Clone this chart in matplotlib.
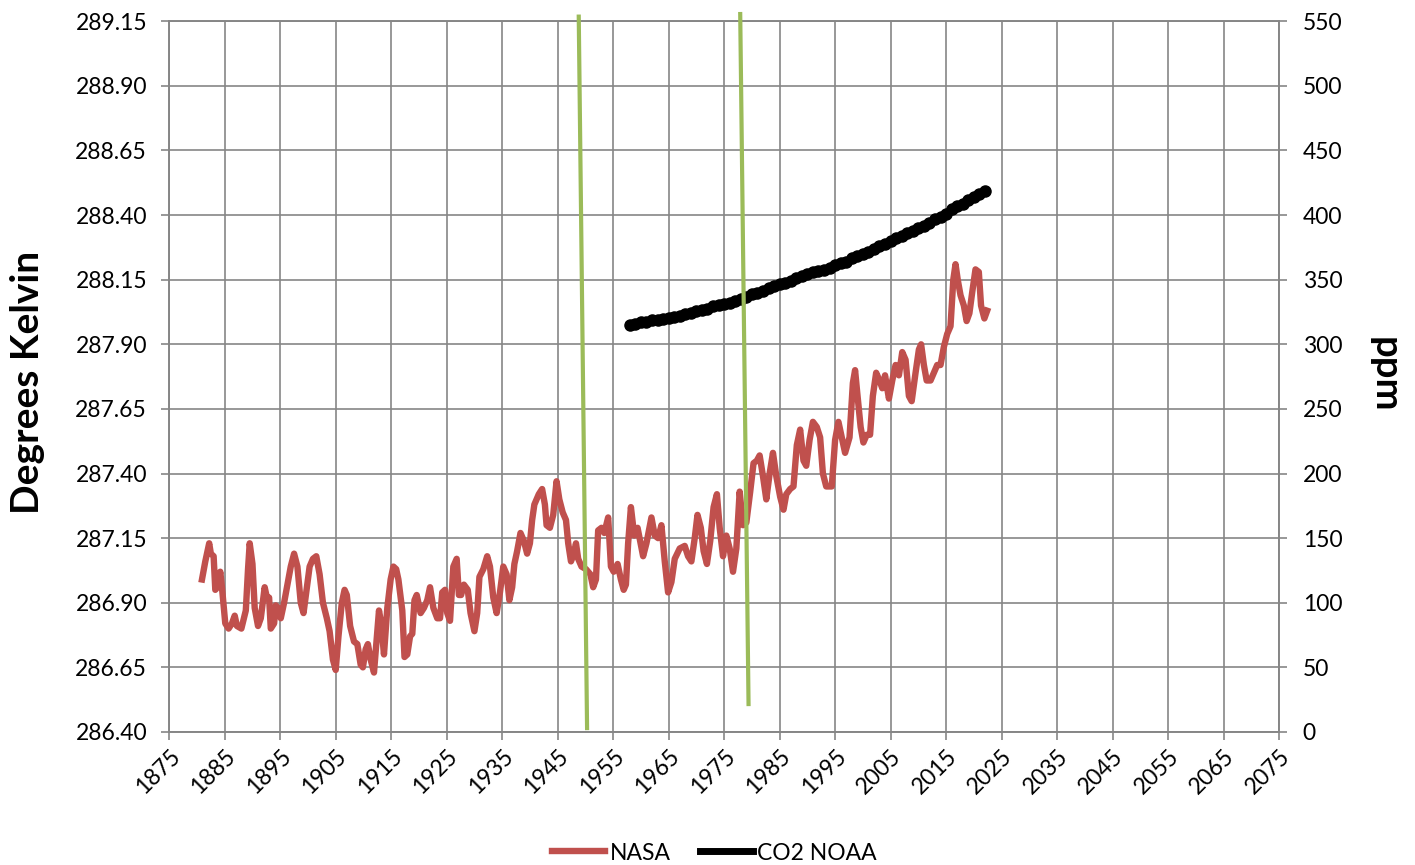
import matplotlib
matplotlib.use("Agg")
import matplotlib.pyplot as plt
from matplotlib.lines import Line2D

plt.rcParams['font.family'] = ['Lato', 'DejaVu Sans']

# NASA temperature (12-month smoothed), degrees Kelvin
nasa_years = [1880.9, 1881.5, 1882.2, 1882.5, 1883.0, 1883.3, 1883.7, 1884.2, 1884.5, 1885.1,
              1885.7, 1886.3, 1886.8, 1887.2, 1888.0, 1888.8, 1889.2, 1889.5, 1890.0, 1890.4,
              1891.0, 1891.5, 1892.2, 1892.6, 1893.0, 1893.3, 1893.9, 1894.2, 1894.6, 1895.1,
              1895.7, 1896.3, 1896.9, 1897.5, 1898.1, 1898.7, 1899.2, 1899.8, 1900.3, 1900.9,
              1901.5, 1902.1, 1902.7, 1903.4, 1903.9, 1904.5, 1905.0, 1905.5, 1906.1, 1906.6,
              1907.0, 1907.6, 1908.3, 1908.9, 1909.5, 1909.9, 1910.4, 1910.8, 1911.3, 1911.9,
              1912.5, 1912.8, 1913.2, 1913.7, 1914.3, 1914.9, 1915.4, 1915.9, 1916.3, 1917.0,
              1917.4, 1917.9, 1918.4, 1918.8, 1919.2, 1919.6, 1920.3, 1920.9, 1921.5, 1922.0,
              1922.6, 1923.3, 1923.8, 1924.2, 1924.7, 1925.1, 1925.6, 1926.2, 1926.8, 1927.2,
              1927.6, 1928.1, 1928.8, 1929.3, 1930.0, 1930.5, 1930.9, 1931.6, 1932.3, 1932.8,
              1933.4, 1934.0, 1934.6, 1935.2, 1935.8, 1936.3, 1936.8, 1937.2, 1937.7, 1938.3,
              1938.9, 1939.5, 1940.0, 1940.4, 1940.8, 1941.6, 1942.2, 1942.7, 1943.0, 1943.6,
              1944.2, 1944.8, 1945.3, 1945.9, 1946.5, 1946.9, 1947.4, 1947.9, 1948.3, 1948.7,
              1949.3, 1950.1, 1950.9, 1951.4, 1951.9, 1952.3, 1952.9, 1953.4, 1954.1, 1954.6,
              1955.1, 1955.8, 1956.4, 1956.9, 1957.3, 1957.7, 1958.2, 1958.8, 1959.4, 1960.4,
              1961.0, 1961.9, 1962.5, 1963.1, 1963.7, 1964.3, 1964.9, 1965.5, 1966.1, 1967.0,
              1967.9, 1968.5, 1969.1, 1969.7, 1970.2, 1970.8, 1971.3, 1971.9, 1972.5, 1973.1,
              1973.7, 1974.2, 1974.8, 1975.4, 1976.0, 1976.6, 1977.2, 1977.8, 1978.4, 1979.0,
              1979.7, 1980.3, 1980.9, 1981.4, 1982.0, 1982.6, 1983.2, 1983.8, 1984.4, 1985.1,
              1985.7, 1986.2, 1986.9, 1987.5, 1988.1, 1988.7, 1989.3, 1989.8, 1990.4, 1991.0,
              1991.7, 1992.3, 1992.8, 1993.4, 1994.4, 1995.0, 1995.6, 1996.2, 1996.8, 1997.6,
              1998.2, 1998.6, 1999.0, 1999.6, 2000.1, 2000.7, 2001.3, 2001.8, 2002.4, 2003.0,
              2003.5, 2004.0, 2004.7, 2005.3, 2005.9, 2006.5, 2007.1, 2007.7, 2008.3, 2008.8,
              2009.5, 2010.1, 2010.5, 2011.0, 2011.5, 2012.2, 2012.8, 2013.4, 2014.0, 2014.6,
              2015.2, 2015.8, 2016.3, 2016.7, 2017.1, 2017.6, 2018.2, 2018.7, 2019.2, 2019.7,
              2020.3, 2020.9, 2021.3, 2021.9, 2022.4]
nasa_kelvin = [286.99, 287.06, 287.13, 287.09, 287.08, 286.95, 286.96, 287.02, 286.96, 286.82,
               286.80, 286.82, 286.85, 286.81, 286.80, 286.87, 287.03, 287.13, 287.05, 286.88,
               286.81, 286.84, 286.96, 286.92, 286.92, 286.80, 286.82, 286.89, 286.88, 286.84,
               286.90, 286.97, 287.04, 287.09, 287.04, 286.90, 286.86, 286.96, 287.04, 287.07,
               287.08, 287.01, 286.90, 286.84, 286.79, 286.68, 286.64, 286.77, 286.90, 286.95,
               286.93, 286.81, 286.75, 286.74, 286.66, 286.65, 286.72, 286.74, 286.68, 286.63,
               286.79, 286.87, 286.82, 286.70, 286.88, 286.99, 287.04, 287.03, 286.99, 286.87,
               286.69, 286.70, 286.77, 286.78, 286.91, 286.93, 286.86, 286.88, 286.91, 286.96,
               286.88, 286.84, 286.84, 286.94, 286.95, 286.86, 286.83, 287.04, 287.07, 286.93,
               286.93, 286.97, 286.95, 286.86, 286.79, 286.86, 287.00, 287.03, 287.08, 287.04,
               286.92, 286.86, 286.94, 287.04, 287.01, 286.91, 286.96, 287.05, 287.10, 287.17,
               287.14, 287.09, 287.13, 287.22, 287.28, 287.32, 287.34, 287.28, 287.20, 287.19,
               287.24, 287.37, 287.30, 287.25, 287.22, 287.13, 287.06, 287.09, 287.13, 287.07,
               287.04, 287.03, 287.01, 286.96, 286.99, 287.18, 287.19, 287.17, 287.23, 287.04,
               287.02, 287.05, 286.99, 286.95, 286.97, 287.13, 287.27, 287.16, 287.19, 287.08,
               287.13, 287.23, 287.16, 287.15, 287.20, 287.06, 286.94, 286.98, 287.07, 287.11,
               287.12, 287.08, 287.06, 287.15, 287.24, 287.19, 287.10, 287.05, 287.14, 287.27,
               287.32, 287.19, 287.08, 287.16, 287.11, 287.02, 287.11, 287.33, 287.20, 287.21,
               287.33, 287.44, 287.45, 287.47, 287.39, 287.30, 287.40, 287.48, 287.39, 287.31,
               287.26, 287.32, 287.34, 287.35, 287.51, 287.57, 287.45, 287.43, 287.53, 287.60,
               287.58, 287.54, 287.40, 287.35, 287.35, 287.53, 287.60, 287.54, 287.48, 287.54,
               287.75, 287.80, 287.71, 287.58, 287.52, 287.55, 287.55, 287.70, 287.79, 287.76,
               287.73, 287.78, 287.69, 287.76, 287.82, 287.78, 287.87, 287.84, 287.70, 287.68,
               287.79, 287.88, 287.90, 287.82, 287.76, 287.76, 287.79, 287.82, 287.82, 287.89,
               287.94, 287.97, 288.15, 288.21, 288.15, 288.09, 288.05, 287.99, 288.02, 288.10,
               288.19, 288.18, 288.05, 288.00, 288.03]

# CO2 NOAA, ppm
co2_years = list(range(1958, 2023))
co2_ppm = [315.3, 316.0, 316.9, 317.6, 318.5, 319.0, 319.6, 320.0, 321.4, 322.2,
           323.1, 324.6, 325.7, 326.3, 327.5, 329.7, 330.2, 331.1, 332.0, 333.8,
           335.4, 336.8, 338.8, 340.1, 341.5, 343.2, 344.9, 346.4, 347.6, 349.3,
           351.7, 353.2, 354.5, 355.7, 356.5, 357.2, 359.0, 361.0, 362.7, 363.9,
           366.8, 368.5, 369.7, 371.3, 373.5, 376.0, 377.7, 380.0, 382.1, 384.0,
           385.8, 387.6, 390.1, 391.9, 394.1, 396.7, 398.8, 401.0, 404.4, 406.8,
           408.7, 411.7, 414.2, 416.4, 418.5]

# two green marker lines (ppm axis)
green1_x = [1948.8, 1950.3]
green1_y = [553.6, 3.0]
green2_x = [1977.9, 1979.4]
green2_y = [555.6, 21.6]

x_ticks = list(range(1875, 2076, 10))
left_ticks = [286.40, 286.65, 286.90, 287.15, 287.40, 287.65, 287.90, 288.15, 288.40, 288.65, 288.90, 289.15]
right_ticks = list(range(0, 551, 50))

RED = '#C0504D'
GREEN = '#9BBB59'
GRID = '#868686'

fig = plt.figure(figsize=(14.15, 8.65), dpi=100)
ax = fig.add_axes([0.1196, 0.1538, 0.9039 - 0.1196, 0.9754 - 0.1538])
ax2 = ax.twinx()

ax.plot(nasa_years, nasa_kelvin, color=RED, lw=4.6, solid_joinstyle='round', zorder=3)
ax2.plot(co2_years, co2_ppm, color='black', lw=5, marker='o', ms=8, zorder=3)
ax2.plot(green1_x, green1_y, color=GREEN, lw=3, clip_on=False, zorder=4)
ax2.plot(green2_x, green2_y, color=GREEN, lw=3, clip_on=False, zorder=4)

ax.set_xlim(1875, 2075)
ax.set_ylim(286.40, 289.15)
ax2.set_ylim(0, 550)
ax.set_xticks(x_ticks)
ax.set_yticks(left_ticks)
ax.set_yticklabels([f"{v:.2f}" for v in left_ticks])
ax2.set_yticks(right_ticks)

ax.grid(True, color=GRID, lw=1.2)
ax.set_axisbelow(True)
for a in (ax, ax2):
    for s in a.spines.values():
        s.set_color(GRID)
        s.set_linewidth(1.2)
    a.tick_params(direction='out', length=6, width=1.2, color=GRID, labelsize=16.5,
                  labelcolor='black')
ax.tick_params(axis='y', pad=10)
ax2.tick_params(axis='y', pad=11)
ax.tick_params(axis='x', pad=4)

for lbl in ax.get_xticklabels():
    lbl.set_rotation(45)
    lbl.set_ha('right')
    lbl.set_rotation_mode('anchor')

ax.set_ylabel('Degrees Kelvin', fontsize=28, fontweight='bold', va='center')
ax.yaxis.set_label_coords(-0.1273, 0.492)
ax2.set_ylabel('ppm', fontsize=27.5, fontweight='bold', rotation=270, va='center')
ax2.yaxis.set_label_coords(1.0955, 0.503)

handles = [Line2D([], [], color=RED, lw=4.6), Line2D([], [], color='black', lw=5)]
fig.legend(handles, ['NASA', 'CO2 NOAA'], loc='center', bbox_to_anchor=(0.505, 1 - 853 / 865),
           ncol=2, frameon=False, fontsize=16.5, handlelength=2.3, handletextpad=0.2,
           columnspacing=1.27)

fig.savefig('out.png', dpi=100)
